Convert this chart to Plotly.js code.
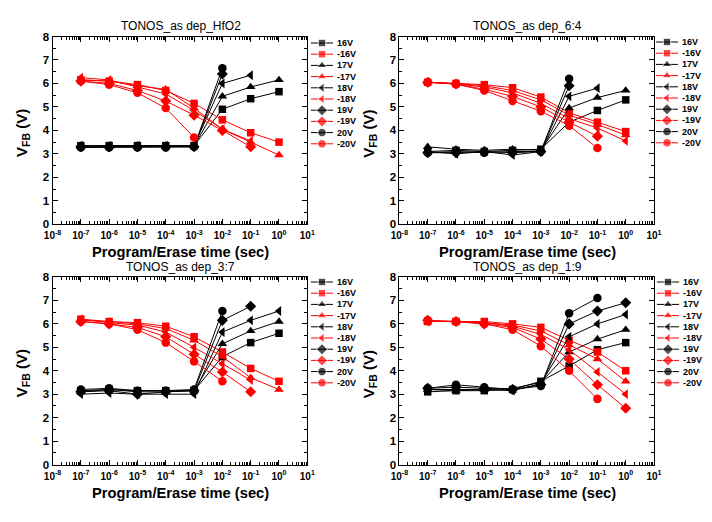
<!DOCTYPE html>
<html><head><meta charset="utf-8">
<script src="https://cdn.plot.ly/plotly-3.0.1.min.js"></script>
<style>html,body{margin:0;padding:0;background:#fff}#chart{width:712px;height:522px}</style>
</head><body><div id="chart"></div>
<script>
// ---------- data ----------
const timeSec = [1e-7, 1e-6, 1e-5, 1e-4, 1e-3, 1e-2, 1e-1, 1];
const voltageLabels = ['16V', '-16V', '17V', '-17V', '18V', '-18V', '19V', '-19V', '20V', '-20V'];
const panelTitles = ['TONOS_as dep_HfO2', 'TONOS_as dep_6:4', 'TONOS_as dep_3:7', 'TONOS_as dep_1:9'];
const xTickVals = [1e-8, 1e-7, 1e-6, 1e-5, 1e-4, 1e-3, 1e-2, 1e-1, 1, 10];
const xTickText = ['10<sup>-8</sup>', '10<sup>-7</sup>', '10<sup>-6</sup>', '10<sup>-5</sup>', '10<sup>-4</sup>',
                   '10<sup>-3</sup>', '10<sup>-2</sup>', '10<sup>-1</sup>', '10<sup>0</sup>', '10<sup>1</sup>'];
const yTickVals = [0, 1, 2, 3, 4, 5, 6, 7, 8];

// Panel 1: HfO2
const hfo2_p16 = [3.35, 3.35, 3.35, 3.35, 3.35, 4.90, 5.35, 5.65];
const hfo2_m16 = [6.15, 6.10, 5.95, 5.70, 5.15, 4.45, 3.90, 3.50];
const hfo2_p17 = [3.30, 3.30, 3.30, 3.30, 3.33, 5.45, 5.85, 6.15];
const hfo2_m17 = [6.15, 6.10, 5.90, 5.75, 4.95, 4.05, 3.50, 2.95];
const hfo2_p18 = [3.35, 3.35, 3.35, 3.35, 3.35, 6.00, 6.35];
const hfo2_m18 = [6.25, 6.15, 5.85, 5.55, 4.85, 4.05, 3.55];
const hfo2_p19 = [3.30, 3.30, 3.30, 3.30, 3.30, 6.40];
const hfo2_m19 = [6.10, 6.00, 5.70, 5.25, 4.65, 4.00, 3.30];
const hfo2_p20 = [3.27, 3.27, 3.27, 3.27, 3.30, 6.65];
const hfo2_m20 = [6.10, 5.95, 5.60, 4.95, 3.70];

// Panel 2: 6:4
const r64_p16 = [3.10, 3.15, 3.10, 3.15, 3.20, 4.35, 4.85, 5.30];
const r64_m16 = [6.05, 6.00, 5.95, 5.82, 5.42, 4.75, 4.35, 3.95];
const r64_p17 = [3.30, 3.20, 3.15, 3.20, 3.15, 4.95, 5.40, 5.70];
const r64_m17 = [6.05, 6.00, 5.90, 5.70, 5.30, 4.65, 4.25, 3.80];
const r64_p18 = [3.10, 3.00, 3.10, 2.95, 3.10, 5.45, 5.80];
const r64_m18 = [6.05, 5.98, 5.85, 5.60, 5.15, 4.50, 4.10, 3.55];
const r64_p19 = [3.05, 3.05, 3.10, 3.05, 3.10, 5.90];
const r64_m19 = [6.05, 5.98, 5.75, 5.45, 5.00, 4.35, 3.75];
const r64_p20 = [3.05, 3.10, 3.05, 3.10, 3.10, 6.20];
const r64_m20 = [6.05, 5.97, 5.70, 5.25, 4.82, 4.20, 3.25];

// Panel 3: 3:7
const r37_p16 = [3.15, 3.20, 3.15, 3.15, 3.15, 4.60, 5.20, 5.60];
const r37_m16 = [6.20, 6.10, 6.05, 5.90, 5.45, 4.80, 4.10, 3.55];
const r37_p17 = [3.10, 3.20, 3.10, 3.10, 3.15, 5.15, 5.70, 6.10];
const r37_m17 = [6.15, 6.10, 6.00, 5.80, 5.30, 4.60, 3.70, 3.20];
const r37_p18 = [3.00, 3.05, 3.00, 3.00, 3.00, 5.65, 6.15, 6.55];
const r37_m18 = [6.20, 6.05, 5.95, 5.65, 5.00, 4.30, 3.60];
const r37_p19 = [3.10, 3.15, 3.00, 3.10, 3.15, 6.15, 6.75];
const r37_m19 = [6.10, 6.00, 5.85, 5.45, 4.70, 3.95, 3.10];
const r37_p20 = [3.20, 3.25, 3.15, 3.15, 3.20, 6.55];
const r37_m20 = [6.10, 6.00, 5.75, 5.20, 4.40, 3.55];

// Panel 4: 1:9
const r19_p16 = [3.10, 3.15, 3.15, 3.20, 3.55, 4.20, 4.90, 5.20];
const r19_m16 = [6.10, 6.10, 6.10, 6.00, 5.85, 5.30, 4.80, 4.00];
const r19_p17 = [3.20, 3.15, 3.20, 3.25, 3.50, 4.80, 5.35, 5.75];
const r19_m17 = [6.10, 6.10, 6.05, 5.95, 5.70, 5.10, 4.50, 3.55];
const r19_p18 = [3.20, 3.20, 3.20, 3.15, 3.45, 5.45, 6.00, 6.40];
const r19_m18 = [6.10, 6.10, 6.05, 5.90, 5.55, 4.90, 3.95, 3.00];
const r19_p19 = [3.25, 3.30, 3.25, 3.20, 3.40, 6.00, 6.55, 6.90];
const r19_m19 = [6.15, 6.10, 6.00, 5.85, 5.35, 4.50, 3.40, 2.40];
const r19_p20 = [3.25, 3.40, 3.30, 3.20, 3.35, 6.45, 7.10];
const r19_m20 = [6.15, 6.10, 6.00, 5.75, 5.05, 4.00, 2.80];

const panelSeries = [
  [hfo2_p16, hfo2_m16, hfo2_p17, hfo2_m17, hfo2_p18, hfo2_m18, hfo2_p19, hfo2_m19, hfo2_p20, hfo2_m20],
  [r64_p16, r64_m16, r64_p17, r64_m17, r64_p18, r64_m18, r64_p19, r64_m19, r64_p20, r64_m20],
  [r37_p16, r37_m16, r37_p17, r37_m17, r37_p18, r37_m18, r37_p19, r37_m19, r37_p20, r37_m20],
  [r19_p16, r19_m16, r19_p17, r19_m17, r19_p18, r19_m18, r19_p19, r19_m19, r19_p20, r19_m20]
];

// ---------- styling ----------
const W = 712, H = 522;
const FONT = 'Liberation Sans, Arial, Helvetica, sans-serif';
const symbols = ['square', 'triangle-up', 'triangle-left', 'diamond', 'circle'];
const sizes = [7.5, 8.5, 8.5, 8.5, 8.5];
const colorOf = i => (i % 2 === 0 ? '#000000' : '#ff0000');

// panel boxes in pixels: [left, right, top, bottom]
const boxes = [
  [52.5, 307.3, 36.5, 224.3],
  [399.4, 654.0, 36.5, 224.3],
  [52.5, 307.3, 277.0, 464.5],
  [399.4, 654.0, 277.0, 464.5]
];
// legend: [lineStartX, firstItemY]
const legendPos = [[311, 43], [656, 42], [311, 282], [657, 282]];
const legendStep = 11.2;

const px = x => x / W;
const py = y => 1 - y / H;

const minorX = [];
for (let e = -8; e < 1; e++) for (let d = 2; d <= 9; d++) minorX.push(d * Math.pow(10, e));

const traces = [];
const layout = {
  width: W, height: H,
  margin: {l: 0, r: 0, t: 0, b: 0},
  paper_bgcolor: '#ffffff', plot_bgcolor: 'rgba(0,0,0,0)',
  showlegend: false,
  font: {family: FONT, color: '#000'},
  annotations: []
};

panelSeries.forEach((series, p) => {
  const n = p + 1;
  const xa = 'x' + (n === 1 ? '' : n), ya = 'y' + (n === 1 ? '' : n);
  const [L, R, T, B] = boxes[p];
  series.forEach((vals, i) => {
    const k = Math.floor(i / 2);
    traces.push({
      type: 'scatter', mode: 'lines+markers',
      x: timeSec.slice(0, vals.length), y: vals,
      xaxis: xa, yaxis: ya, name: voltageLabels[i],
      line: {color: colorOf(i), width: 1},
      marker: {symbol: symbols[k], size: sizes[k], color: colorOf(i)},
      cliponaxis: false
    });
  });
  layout['xaxis' + (n === 1 ? '' : n)] = {
    type: 'log', domain: [px(L), px(R)], range: [-8, 1], anchor: ya,
    tickmode: 'array', tickvals: xTickVals, ticktext: xTickText,
    ticks: 'inside', ticklen: 5, tickwidth: 1, tickcolor: '#000', ticklabelstandoff: 2,
    minor: {tickmode: 'array', tickvals: minorX, ticks: 'inside', ticklen: 3, tickwidth: 1, tickcolor: '#000'},
    showline: true, linecolor: '#000', linewidth: 1, mirror: 'ticks',
    showgrid: false, zeroline: false, fixedrange: true,
    tickfont: {family: FONT, size: 10, weight: 'bold', color: '#000'}
  };
  layout['yaxis' + (n === 1 ? '' : n)] = {
    domain: [py(B), py(T)], range: [0, 8], anchor: xa,
    tickmode: 'array', tickvals: yTickVals,
    ticks: 'inside', ticklen: 5, tickwidth: 1, tickcolor: '#000',
    minor: {dtick: 0.5, ticks: 'inside', ticklen: 3, tickwidth: 1, tickcolor: '#000'},
    showline: true, linecolor: '#000', linewidth: 1, mirror: 'ticks',
    showgrid: false, zeroline: false, fixedrange: true,
    tickfont: {family: FONT, size: 11.5, weight: 'bold', color: '#000'}
  };
  const cx = (L + R) / 2;
  // panel title
  layout.annotations.push({
    xref: 'paper', yref: 'paper', x: px(cx + 1), y: py(T - 10), xanchor: 'center', yanchor: 'middle',
    text: panelTitles[p], showarrow: false, font: {family: FONT, size: 12, color: '#000'}
  });
  // x-axis title
  layout.annotations.push({
    xref: 'paper', yref: 'paper', x: px(cx + 1), y: py(B + 28), xanchor: 'center', yanchor: 'middle',
    text: 'Program/Erase time (sec)', showarrow: false,
    font: {family: FONT, size: 14.7, weight: 'bold', color: '#000'}
  });
  // y-axis title
  layout.annotations.push({
    xref: 'paper', yref: 'paper', x: px(L - 30), y: py((T + B) / 2 + 3), xanchor: 'center', yanchor: 'middle',
    text: 'V<sub>FB</sub> (V)', textangle: -90, showarrow: false,
    font: {family: FONT, size: 15, weight: 'bold', color: '#000'}
  });

  // legend built on a hidden helper axis (pixel units)
  const ln = n + 4;
  const [lx, ly] = legendPos[p];
  const topPx = ly - legendStep / 2, botPx = ly + legendStep * 9.5;
  layout['xaxis' + ln] = {domain: [px(lx), px(lx + 50)], range: [0, 50], visible: false, anchor: 'y' + ln, fixedrange: true};
  layout['yaxis' + ln] = {domain: [py(botPx), py(topPx)], range: [9.5, -0.5], visible: false, anchor: 'x' + ln, fixedrange: true};
  voltageLabels.forEach((lab, i) => {
    const k = Math.floor(i / 2);
    traces.push({
      type: 'scatter', mode: 'lines+markers',
      x: [0, 11, 22], y: [i, i, i],
      xaxis: 'x' + ln, yaxis: 'y' + ln, hoverinfo: 'skip',
      line: {color: colorOf(i), width: 1},
      marker: {symbol: symbols[k], size: [0, sizes[k], 0], color: colorOf(i)},
      cliponaxis: false
    });
    layout.annotations.push({
      xref: 'x' + ln, yref: 'y' + ln, x: 23.5, y: i, xanchor: 'left', yanchor: 'middle',
      text: lab, showarrow: false, font: {family: FONT, size: 9, weight: 'bold', color: '#000'}
    });
  });
});

Plotly.newPlot('chart', traces, layout, {staticPlot: true, displayModeBar: false});
</script>
</body></html>
